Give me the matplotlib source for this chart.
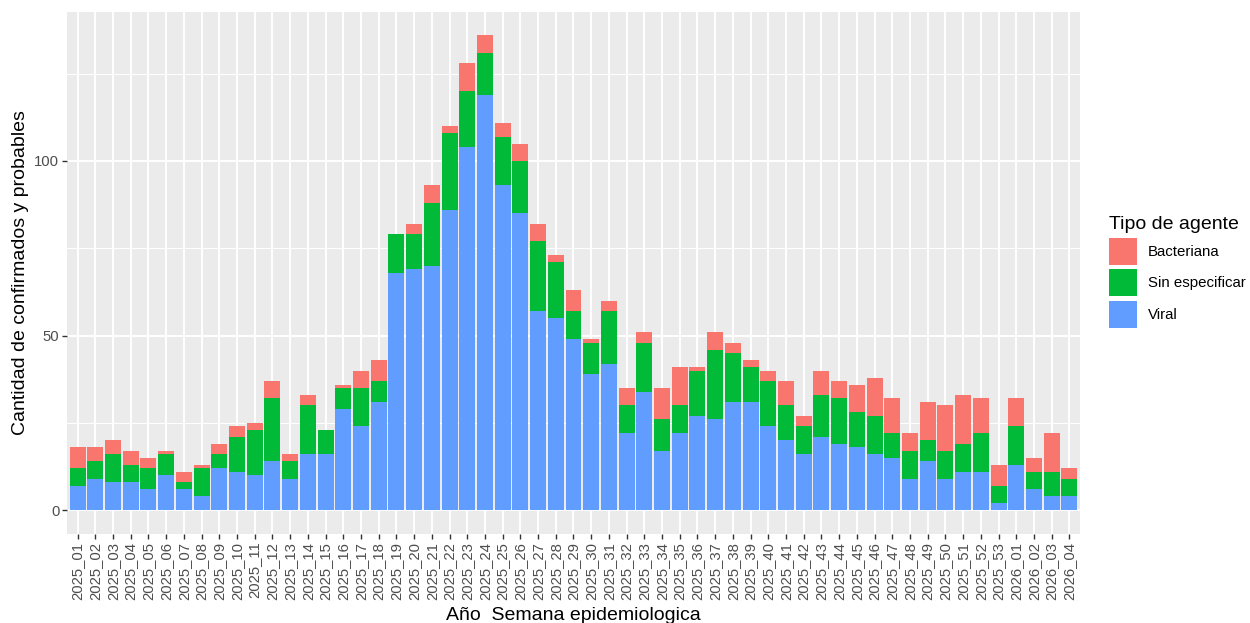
import matplotlib
matplotlib.use("Agg")
import matplotlib.pyplot as plt
from matplotlib.patches import Patch
from matplotlib.ticker import FixedLocator
import numpy as np

weeks = [f"2025_{i:02d}" for i in range(1, 54)] + [f"2026_{i:02d}" for i in range(1, 5)]

viral = [7, 9, 8, 8, 6, 10, 6, 4, 12, 11, 10, 14, 9, 16, 16, 29,
         24, 31,
         68, 69, 70, 86, 104, 119, 93, 85, 57, 55,
         49, 39, 42, 22, 34, 17, 22, 27, 26, 31, 31, 24, 20, 16, 21,
         19, 18, 16, 15, 9, 14, 9, 11, 11, 2,
         13, 6, 4, 4]
sin_especificar = [5, 5, 8, 5, 6, 6, 2, 8, 4, 10, 13, 18, 5, 14, 7, 6,
                   11, 6,
                   11, 10, 18, 22, 16, 12, 14, 15, 20, 16,
                   8, 9, 15, 8, 14, 9, 8, 13, 20, 14, 10, 13, 10, 8, 12,
                   13, 10, 11, 7, 8, 6, 8, 8, 11, 5,
                   11, 5, 7, 5]
bacteriana = [6, 4, 4, 4, 3, 1, 3, 1, 3, 3, 2, 5, 2, 3, 0, 1,
              5, 6,
              0, 3, 5, 2, 8, 5, 4, 5, 5, 2,
              6, 1, 3, 5, 3, 9, 11, 1, 5, 3, 2, 3, 7, 3, 7,
              5, 8, 11, 10, 5, 11, 13, 14, 10, 6,
              8, 4, 11, 3]

series_names = ["Bacteriana", "Sin especificar", "Viral"]
colors = {"Bacteriana": "#F8766D", "Sin especificar": "#00BA38", "Viral": "#619CFF"}

plt.rcParams['font.family'] = ['Liberation Sans', 'DejaVu Sans']

W, H = 1250, 623
fig = plt.figure(figsize=(W / 100, H / 100), dpi=100)
ax = fig.add_axes([67 / W, 1 - 534 / H, (1080 - 67) / W, (534 - 11.5) / H])
ax.set_facecolor("#EBEBEB")

x = np.arange(1, len(weeks) + 1)
v = np.array(viral)
s = np.array(sin_especificar)
b = np.array(bacteriana)
ax.bar(x, v, width=0.9, color=colors["Viral"], linewidth=0, zorder=3)
ax.bar(x, s, width=0.9, bottom=v, color=colors["Sin especificar"], linewidth=0, zorder=3)
ax.bar(x, b, width=0.9, bottom=v + s, color=colors["Bacteriana"], linewidth=0, zorder=3)

total_max = (v + s + b).max()
ax.set_ylim(-0.05 * total_max, total_max * 1.05)
ax.set_xlim(0.4, len(weeks) + 0.6)

ax.yaxis.set_major_locator(FixedLocator([0, 50, 100]))
ax.yaxis.set_minor_locator(FixedLocator([25, 75, 125]))
ax.set_xticks(x)
ax.set_xticklabels(weeks, rotation=90, fontsize=10.7, color="#4D4D4D")
ax.tick_params(axis="y", labelsize=10.7, labelcolor="#4D4D4D")
ax.tick_params(axis="both", which="major", length=3.5, width=1.0, color="#333333", pad=2)
ax.tick_params(axis="both", which="minor", length=0)

ax.grid(which="major", color="white", linewidth=1.4, zorder=0)
ax.grid(which="minor", axis="y", color="white", linewidth=0.7, zorder=0)
ax.set_axisbelow(True)
for sp in ax.spines.values():
    sp.set_visible(False)

ax.set_xlabel("Año  Semana epidemiologica", fontsize=14, color="black", labelpad=5)
ax.set_ylabel("Cantidad de confirmados y probables", fontsize=14, color="black", labelpad=4)

handles = [Patch(facecolor=colors[n], edgecolor="none", label=n) for n in series_names]
leg = fig.legend(handles=handles, loc="upper left", bbox_to_anchor=(1099.5 / W, 1 - 206.5 / H),
                 frameon=False, fontsize=10.8, title="Tipo de agente", title_fontsize=14,
                 handlelength=1.86, handleheight=2.4, labelspacing=0.3, handletextpad=0.7,
                 borderpad=0.65, borderaxespad=0.0, alignment="left")

fig.savefig("out.png", dpi=100)
